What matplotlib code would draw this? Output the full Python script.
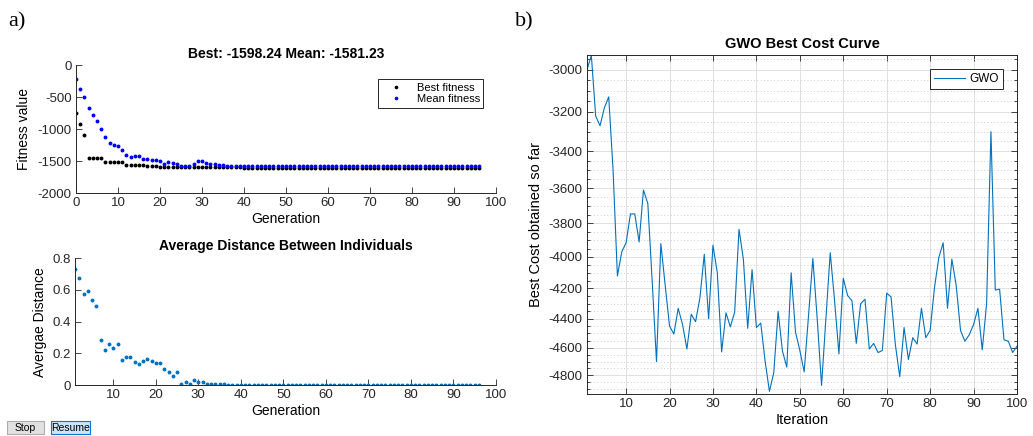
import numpy as np
import matplotlib
matplotlib.use("Agg")
import matplotlib.pyplot as plt
from matplotlib.ticker import FixedLocator, FuncFormatter
from matplotlib.patches import Rectangle

plt.rcParams['font.family'] = ['Liberation Sans', 'DejaVu Sans']
plt.rcParams['axes.unicode_minus'] = False

# ---------------- data ----------------
generations = list(range(0, 97))
best_fitness = [
    -743, -920, -1095, -1450, -1450, -1450, -1450, -1508, -1508, -1508,
    -1508, -1508, -1560, -1560, -1560, -1560, -1560, -1572, -1572, -1572,
    -1582, -1582, -1582, -1582, -1582, -1590, -1590, -1590, -1590, -1590,
    -1594, -1594, -1594, -1594, -1594, -1596, -1596, -1596, -1596, -1596,
    -1598.24, -1598.24, -1598.24, -1598.24, -1598.24, -1598.24, -1598.24, -1598.24, -1598.24, -1598.24,
    -1598.24, -1598.24, -1598.24, -1598.24, -1598.24, -1598.24, -1598.24, -1598.24, -1598.24, -1598.24,
    -1598.24, -1598.24, -1598.24, -1598.24, -1598.24, -1598.24, -1598.24, -1598.24, -1598.24, -1598.24,
    -1598.24, -1598.24, -1598.24, -1598.24, -1598.24, -1598.24, -1598.24, -1598.24, -1598.24, -1598.24,
    -1598.24, -1598.24, -1598.24, -1598.24, -1598.24, -1598.24, -1598.24, -1598.24, -1598.24, -1598.24,
    -1598.24, -1598.24, -1598.24, -1598.24, -1598.24, -1598.24, -1598.24,
]
mean_fitness = [
    -210, -378, -495, -672, -770, -875, -1003, -1125, -1218, -1250,
    -1266, -1330, -1405, -1432, -1410, -1418, -1470, -1460, -1478, -1485,
    -1500, -1545, -1516, -1530, -1550, -1570, -1572, -1568, -1536, -1496,
    -1497, -1522, -1545, -1550, -1560, -1565, -1570, -1574, -1576, -1577,
    -1578, -1578, -1572, -1576, -1579, -1580, -1580, -1581, -1579, -1580,
    -1581, -1580, -1579, -1578, -1572, -1570, -1574, -1579, -1580, -1581,
    -1580, -1581, -1580, -1579, -1581, -1581, -1580, -1579, -1581, -1581,
    -1580, -1581, -1579, -1576, -1575, -1578, -1580, -1581, -1581, -1580,
    -1581, -1581, -1580, -1581, -1581, -1581, -1580, -1581, -1581, -1580,
    -1581, -1581, -1580, -1581, -1581, -1581, -1581.23,
]

dist_generations = list(range(1, 97))
avg_distance = [
    0.733, 0.674, 0.573, 0.594, 0.537, 0.497, 0.284, 0.221, 0.257, 0.234,
    0.259, 0.158, 0.177, 0.175, 0.147, 0.135, 0.152, 0.166, 0.154, 0.141,
    0.137, 0.099, 0.082, 0.055, 0.080, 0.008, 0.021, 0.008, 0.029, 0.019,
    0.017, 0.008, 0.006, 0.006, 0.006, 0.004, 0.003, 0.003, 0.002, 0.002,
    0.002, 0.001, 0.001, 0.001, 0.001, 0.001, 0.001, 0.001, 0.000, 0.000,
    0.000, 0.000, 0.000, 0.000, 0.000, 0.000, 0.000, 0.000, 0.000, 0.000,
    0.000, 0.000, 0.000, 0.000, 0.000, 0.000, 0.000, 0.000, 0.000, 0.000,
    0.000, 0.000, 0.000, 0.000, 0.000, 0.000, 0.000, 0.000, 0.000, 0.000,
    0.000, 0.000, 0.000, 0.000, 0.000, 0.000, 0.000, 0.000, 0.000, 0.000,
    0.000, 0.000, 0.000, 0.000, 0.000, 0.000,
]

iterations = list(range(1, 101))
gwo_best_cost = [
    -3000, -2935, -3222, -3270, -3181, -3128, -3500, -4120, -3970, -3915,
    -3745, -3745, -3910, -3610, -3685, -4150, -4700, -3920, -4180, -4450,
    -4505, -4330, -4440, -4610, -4370, -4420, -4260, -3985, -4400, -3930,
    -4100, -4630, -4360, -4455, -4355, -3835, -4015, -4465, -4080, -4460,
    -4430, -4695, -4920, -4780, -4350, -4625, -4740, -4100, -4490, -4620,
    -4775, -4380, -4010, -4400, -4875, -4400, -3975, -4280, -4645, -4135,
    -4245, -4280, -4570, -4300, -4270, -4610, -4570, -4635, -4620, -4230,
    -4255, -4580, -4810, -4460, -4685, -4530, -4575, -4330, -4530, -4480,
    -4195, -4005, -3915, -4330, -4015, -4180, -4480, -4555, -4510, -4440,
    -4330, -4615, -4300, -3300, -4210, -4205, -4545, -4555, -4635, -4590,
]

top_yticks = [0, -500, -1000, -1500, -2000]
gen_xticks = list(range(0, 101, 10))
dist_yticks = [0, 0.2, 0.4, 0.6, 0.8]
dist_yticklabels = ['0', '0.2', '0.4', '0.6', '0.8']
iter_xticks = list(range(10, 101, 10))
cost_yticks = [-3000, -3200, -3400, -3600, -3800, -4000, -4200, -4400, -4600, -4800]
cost_minor = list(range(-4900, -2900, 50))

# ---------------- figure ----------------
W, H = 1033, 436
fig = plt.figure(figsize=(W / 100, H / 100), dpi=100)
AX = '#262626'
MBLUE = '#0072BD'
MS = 1.8


def fpos(l, t, r, b):
    return [l / W, 1 - b / H, (r - l) / W, (b - t) / H]


def style_left(ax):
    for s in ['top', 'right']:
        ax.spines[s].set_visible(False)
    for s in ['left', 'bottom']:
        ax.spines[s].set_color(AX)
        ax.spines[s].set_linewidth(0.7)
    ax.tick_params(direction='in', length=4, width=0.6, colors=AX, labelsize=9.5, pad=3)


# Top-left: fitness
ax1 = fig.add_axes(fpos(76, 65.3, 496, 193.3))
ax1.plot(generations, best_fitness, linestyle='none', marker='o', ms=MS,
         color='black', mec='black', label='Best fitness')
ax1.plot(generations, mean_fitness, linestyle='none', marker='o', ms=MS,
         color='#0000ff', mec='#0000ff', label='Mean fitness')
ax1.set_xlim(0, 100)
ax1.set_ylim(-2000, 0)
ax1.set_xticks(gen_xticks)
ax1.set_yticks(top_yticks)
style_left(ax1)
ax1.set_xlabel('Generation', fontsize=10, labelpad=2)
ax1.set_ylabel('Fitness value', fontsize=10, labelpad=5)
ax1.set_title('Best: -1598.24 Mean: -1581.23', fontsize=10, fontweight='bold', pad=5)
leg1 = ax1.legend(loc='upper right', bbox_to_anchor=(0.970, 0.891), fontsize=8,
                  frameon=True, fancybox=False, framealpha=1, edgecolor=AX,
                  numpoints=1, handlelength=2.6, handletextpad=0.6,
                  borderpad=0.3, labelspacing=0.15, borderaxespad=0,
                  markerscale=0.9)
leg1.get_frame().set_linewidth(0.7)

# Bottom-left: distance
ax2 = fig.add_axes(fpos(75, 258.3, 496, 385))
ax2.plot(dist_generations, avg_distance, linestyle='none', marker='o', ms=MS,
         color=MBLUE, mec=MBLUE)
ax2.set_xlim(1, 100)
ax2.set_ylim(0, 0.8)
ax2.set_xticks(iter_xticks)
ax2.set_yticks(dist_yticks)
ax2.set_yticklabels(dist_yticklabels)
style_left(ax2)
ax2.set_xlabel('Generation', fontsize=10, labelpad=2)
ax2.set_ylabel('Avergae Distance', fontsize=10, labelpad=4)
ax2.set_title('Average Distance Between Individuals', fontsize=10, fontweight='bold', pad=6)


# Right: GWO cost curve on negative log scale
def fwd(y):
    y = np.asarray(y, dtype=float)
    return -np.log10(np.maximum(np.abs(y), 1e-12))


def inv(z):
    z = np.asarray(z, dtype=float)
    return -np.power(10.0, -z)


ax3 = fig.add_axes(fpos(587, 55, 1017, 394))
ax3.set_yscale('function', functions=(fwd, inv))
ax3.plot(iterations, gwo_best_cost, color=MBLUE, lw=0.8, label='GWO')
ax3.set_xlim(1, 100)
ax3.set_ylim(-4940, -2933)
ax3.xaxis.set_major_locator(FixedLocator(iter_xticks))
ax3.yaxis.set_major_locator(FixedLocator(cost_yticks))
ax3.yaxis.set_minor_locator(FixedLocator(cost_minor))
ax3.yaxis.set_major_formatter(FuncFormatter(lambda v, p: '%d' % round(v)))
ax3.yaxis.set_minor_formatter(FuncFormatter(lambda v, p: ''))
ax3.grid(True, which='major', color='#e0e0e0', lw=0.7, linestyle='-')
ax3.yaxis.grid(True, which='minor', color='#bdbdbd', lw=0.6, linestyle=(0, (1, 3)))
ax3.set_axisbelow(True)
for s in ax3.spines.values():
    s.set_color(AX)
    s.set_linewidth(0.7)
ax3.tick_params(which='both', direction='in', top=True, right=True, colors=AX,
                labelsize=9.5, width=0.6)
ax3.tick_params(which='major', length=4, pad=3)
ax3.tick_params(which='minor', length=2)
ax3.set_xlabel('Iteration', fontsize=10.5, labelpad=2)
ax3.set_ylabel('Best Cost obtained so far', fontsize=10.5, labelpad=4)
ax3.set_title('GWO Best Cost Curve', fontsize=10.5, fontweight='bold', pad=5)
leg3 = ax3.legend(loc='upper right', bbox_to_anchor=(0.967, 0.959), fontsize=8.5,
                  frameon=True, fancybox=False, framealpha=1, edgecolor=AX,
                  handlelength=2.6, handletextpad=0.4, borderpad=0.35,
                  borderaxespad=0)
leg3.get_frame().set_linewidth(0.7)

# Panel letters
fig.text(8 / W, 1 - 22 / H, 'a)', fontsize=16, family='Liberation Serif', va='center', ha='left')
fig.text(515 / W, 1 - 22 / H, 'b)', fontsize=16, family='Liberation Serif', va='center', ha='left')


# Buttons
def button(x0, x1, y0, y1, label, fc, ec):
    fig.add_artist(Rectangle((x0 / W, 1 - y1 / H), (x1 - x0) / W, (y1 - y0) / H,
                             transform=fig.transFigure, fc=fc, ec=ec, lw=0.8))
    fig.text((x0 + x1) / 2 / W, 1 - (y0 + y1) / 2 / H, label, fontsize=7.5,
             ha='center', va='center')


button(7, 44, 421, 434, 'Stop', '#e1e1e1', '#adadad')
button(51, 90, 421, 434, 'Resume', '#cce4f7', '#0078d7')

fig.savefig('out.png', dpi=100)
